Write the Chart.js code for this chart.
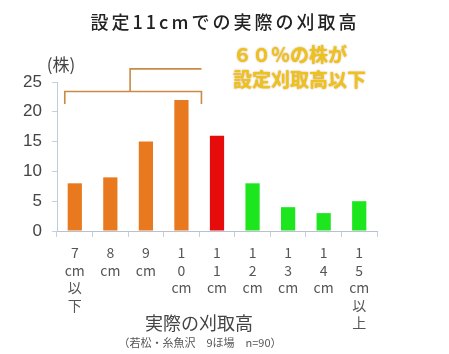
<!DOCTYPE html>
<html>
<head>
<meta charset="utf-8">
<script src="https://cdn.jsdelivr.net/npm/chart.js@4"></script>
<style>
    html, body { margin: 0; padding: 0; background: #ffffff; }
    #wrap { width: 449px; height: 354px; position: relative; }
</style>
</head>
<body>
<div id="wrap"><canvas id="chart"></canvas></div>
<script>
const TITLE = "設定11cmでの実際の刈取高";
const Y_UNIT = "(株)";
const X_TITLE = "実際の刈取高";
const SOURCE = "（若松・糸魚沢　9ほ場　n=90）";
const NOTE = ["６０％の株が", "設定刈取高以下"];

// tick labels are stacked one character per line like the original
const labels = [
    ["7", "cm", "以", "下"],
    ["8", "cm"],
    ["9", "cm"],
    ["1", "0", "cm"],
    ["1", "1", "cm"],
    ["1", "2", "cm"],
    ["1", "3", "cm"],
    ["1", "4", "cm"],
    ["1", "5", "cm", "以", "上"],
];
const counts = [8, 9, 15, 22, 16, 8, 4, 3, 5];
const barColors = ["#e8791f", "#e8791f", "#e8791f", "#e8791f", "#e60c0c", "#1ee61e", "#1ee61e", "#1ee61e", "#1ee61e"];

const JP = '"Noto Sans CJK JP", "Noto Sans", sans-serif';

const extras = {
    id: "extras",
    afterDraw(chart) {
        const ctx = chart.ctx;
        const x = chart.scales.x;
        const y = chart.scales.y;
        ctx.save();

        // title
        ctx.fillStyle = "#222";
        ctx.font = "500 18px " + JP;
        ctx.textAlign = "center";
        ctx.textBaseline = "middle";
        ctx.letterSpacing = "3px";
        ctx.fillText(TITLE, 225, 22);
        ctx.letterSpacing = "0px";

        // unit label over the y axis
        ctx.fillStyle = "#444";
        ctx.font = "17px " + JP;
        ctx.fillText(Y_UNIT, 61, 65);

        // axis title + source line
        ctx.font = "18px " + JP;
        ctx.fillText(X_TITLE, 199, 323);
        ctx.fillStyle = "#555";
        ctx.font = "11px " + JP;
        ctx.fillText(SOURCE, 200, 343);

        // bracket over the first four bars
        let left = x.getPixelForValue(0) - 10;
        let right = x.getPixelForValue(3) + 20;
        let mid = (left + right) / 2 - 3;
        let yTop = y.getPixelForValue(23.4);
        let yEnd = y.getPixelForValue(21.3);
        let yHigh = y.getPixelForValue(27.2);
        ctx.strokeStyle = "#c98a45";
        ctx.lineWidth = 1.6;
        ctx.beginPath();
        ctx.moveTo(left, yEnd);
        ctx.lineTo(left, yTop);
        ctx.lineTo(right, yTop);
        ctx.lineTo(right, yEnd);
        ctx.moveTo(mid, yTop);
        ctx.lineTo(mid, yHigh);
        ctx.lineTo(right, yHigh);
        ctx.stroke();

        // note text
        ctx.font = "bold 19px " + JP;
        ctx.textAlign = "left";
        ctx.fillStyle = "#ecc21c";
        ctx.shadowColor = "rgba(190,110,0,0.7)";
        ctx.shadowBlur = 2;
        ctx.fillText(NOTE[0], 233, 55);
        ctx.fillText(NOTE[1], 233, 80);

        ctx.restore();
    }
};

new Chart(document.getElementById("chart"), {
    type: "bar",
    data: {
        labels: labels,
        datasets: [{
            data: counts,
            backgroundColor: barColors,
            borderWidth: 0,
            categoryPercentage: 1,
            barPercentage: 0.4,
        }]
    },
    options: {
        responsive: true,
        maintainAspectRatio: false,
        animation: false,
        layout: { padding: { top: 82, right: 72, left: 0, bottom: 0 } },
        plugins: {
            legend: { display: false },
            title: { display: false },
            tooltip: { enabled: false },
        },
        scales: {
            x: {
                afterFit(scale) { scale.height = 123; },
                grid: {
                    offset: true,
                    drawOnChartArea: false,
                    tickLength: 6,
                    color: "#c5d0dc",
                },
                border: { color: "#b9c2cc" },
                ticks: {
                    color: "#555",
                    padding: 7,
                    maxRotation: 0,
                    autoSkip: false,
                    font: { family: JP, size: 14, lineHeight: 1.25 },
                },
            },
            y: {
                min: 0,
                max: 25,
                afterFit(scale) { scale.width = 57; },
                grid: {
                    drawOnChartArea: false,
                    tickLength: 5,
                    color: "#c5d0dc",
                },
                border: { color: "#b9cfe0" },
                ticks: {
                    stepSize: 5,
                    color: "#444",
                    padding: 10,
                    font: { family: '"Liberation Sans", Arial, sans-serif', size: 17 },
                },
            },
        },
    },
    plugins: [extras],
});
</script>
</body>
</html>
